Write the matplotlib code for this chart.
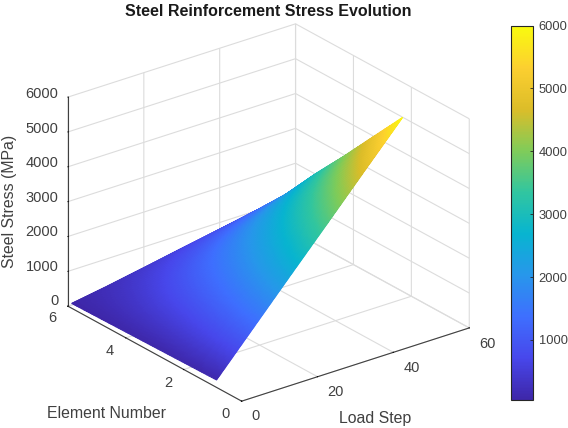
import numpy as np
import matplotlib
matplotlib.use("Agg")
import matplotlib.pyplot as plt
from matplotlib.colors import LinearSegmentedColormap, Normalize
from matplotlib.cm import ScalarMappable

plt.rcParams["font.family"] = ["Liberation Sans", "DejaVu Sans"]

# values
load_steps = [1, 10, 20, 30, 40, 50]
elements = [1, 2, 3, 4, 5, 6]
stress_el1 = [120, 1190, 2380, 3560, 4750, 5930]
stress_el2 = [105, 990, 1975, 2960, 3945, 4930]
stress_el3 = [90, 790, 1580, 2365, 3155, 3925]
stress_el4 = [75, 600, 1190, 1780, 2370, 2955]
stress_el5 = [60, 390, 775, 1160, 1545, 1925]
stress_el6 = [45, 205, 405, 610, 810, 1010]

x_ticks = [0, 20, 40, 60]
y_ticks = [0, 2, 4, 6]
z_ticks = [0, 1000, 2000, 3000, 4000, 5000, 6000]
cbar_ticks = [1000, 2000, 3000, 4000, 5000, 6000]

parula = LinearSegmentedColormap.from_list("parula", [
    (0.2422, 0.1504, 0.6603), (0.2803, 0.2782, 0.9221), (0.2440, 0.4358, 0.9988),
    (0.1540, 0.5902, 0.9218), (0.0297, 0.7082, 0.8163), (0.1938, 0.7758, 0.6251),
    (0.5044, 0.7993, 0.3480), (0.8634, 0.7406, 0.1596), (0.9892, 0.8136, 0.1885),
    (0.9763, 0.9831, 0.0538)])
norm = Normalize(45, 6000)

W, H = 568, 428
fig = plt.figure(figsize=(W / 100, H / 100), dpi=100)
ax = fig.add_axes([36.5 / W, -16.6 / H, 452 / W, 452 / H], projection="3d", proj_type="ortho")
ax.set_box_aspect((286.8, 285.3, 230.3))
ax.view_init(elev=24.8, azim=-127.5)
ax.set_xlim(0, 60, view_margin=0)
ax.set_ylim(0, 6, view_margin=0)
ax.set_zlim(0, 6000, view_margin=0)

# finer mesh only so the facets look like matlab's interpolated shading
stress = np.array([stress_el1, stress_el2, stress_el3, stress_el4, stress_el5, stress_el6], dtype=float)
xf = np.linspace(load_steps[0], load_steps[-1], 220)
yf = np.linspace(elements[0], elements[-1], 60)
by_x = np.array([np.interp(xf, load_steps, row) for row in stress])
zf = np.array([np.interp(yf, elements, col) for col in by_x.T]).T
X, Y = np.meshgrid(xf, yf)
ax.plot_surface(X, Y, zf, facecolors=parula(norm(zf)), rstride=1, cstride=1,
                linewidth=0.8, antialiased=True, shade=False)

ax.set_xticks(x_ticks)
ax.set_yticks(y_ticks)
ax.set_zticks(z_ticks)
ax.set_xticklabels([])
ax.set_yticklabels([])
ax.set_zticklabels([])
ax.zaxis.set_ticks_position("upper")

for axis in (ax.xaxis, ax.yaxis, ax.zaxis):
    axis.set_pane_color((1, 1, 1, 1))
    axis.pane.set_edgecolor("none")
    axis.line.set_color("#404040")
    axis.line.set_linewidth(0.8)
    axis._axinfo["grid"]["color"] = "#dcdcdc"
    axis._axinfo["grid"]["linewidth"] = 0.8
    axis._axinfo["tick"]["inward_factor"] = 0.0
    axis._axinfo["tick"]["outward_factor"] = 0.014
    axis._axinfo["tick"]["color"] = "#404040"
    axis._axinfo["tick"]["linewidth"] = {True: 0.7, False: 0.5}
# element ticks point into the floor in the reference
ax.yaxis._axinfo["tick"]["inward_factor"] = 0.014
ax.yaxis._axinfo["tick"]["outward_factor"] = 0.0


def txt(px, py, s, **kw):
    kw.setdefault("color", "#404040")
    kw.setdefault("fontsize", 10.5)
    kw.setdefault("ha", "center")
    kw.setdefault("va", "center")
    fig.text(px / W, 1 - py / H, s, **kw)


for t, px, py in zip(x_ticks, [255, 335.5, 411.5, 487], [416, 392, 368.5, 344]):
    txt(px, py, str(t))
for t, px, py in zip(y_ticks, [226, 168, 110, 52], [414, 383, 351, 318]):
    txt(px, py, str(t))
for t, py in zip(z_ticks, [301, 267, 232, 198, 163, 129, 94]):
    txt(58.5, py, str(t), ha="right")

txt(268, 11.5, "Steel Reinforcement Stress Evolution", fontweight="bold", color="#1a1a1a", fontsize=11.5)
txt(106.5, 413, "Element Number", fontsize=11.4)
txt(375.5, 418, "Load Step", fontsize=11.4)
txt(10, 201, "Steel Stress (MPa)", rotation=90, fontsize=11.4)

cax = fig.add_axes([510.5 / W, 1 - 400 / H, 22 / W, 374.5 / H])
cb = fig.colorbar(ScalarMappable(norm=norm, cmap=parula), cax=cax, ticks=cbar_ticks)
cb.ax.tick_params(direction="in", length=2.5, width=0.6, color="#262626", labelsize=9.3,
                  labelcolor="#404040", pad=4.5)
cb.outline.set_linewidth(0.8)
cb.outline.set_edgecolor("#262626")

fig.savefig("out.png", dpi=100, facecolor="white")
